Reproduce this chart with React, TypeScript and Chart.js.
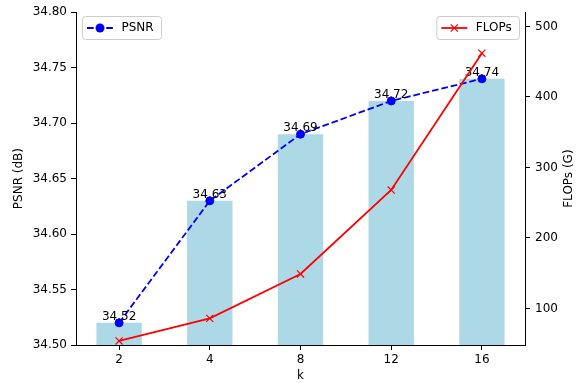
import React, { useEffect, useRef } from 'react';
import { Chart, registerables } from 'chart.js';

Chart.register(...registerables);

const categories = ['2', '4', '8', '12', '16'];
const psnrValues = [34.52, 34.63, 34.69, 34.72, 34.74];
const flopsValues = [54, 86, 149, 268, 462];
const psnrTicks = [34.5, 34.55, 34.6, 34.65, 34.7, 34.75, 34.8];
const flopsTicks = [100, 200, 300, 400, 500];
const psnrRange = [34.5, 34.8];
const flopsRange = [48.3, 520.1];
const xRange = [-0.475, 4.475];

const FAMILY = "'DejaVu Sans', sans-serif";
const W = 585;
const H = 383;

function drawLegend(ctx: CanvasRenderingContext2D, anchorX: number, alignRight: boolean, label: string, kind: 'psnr' | 'flops') {
  ctx.save();
  ctx.font = `12px ${FAMILY}`;
  const tw = ctx.measureText(label).width;
  const w = tw + 46.8;
  const h = 23;
  const x = alignRight ? anchorX - w : anchorX;
  const y = 16;
  ctx.beginPath();
  (ctx as any).roundRect(x + 0.5, y + 0.5, w, h, 3);
  ctx.fillStyle = 'rgba(255,255,255,0.8)';
  ctx.fill();
  ctx.strokeStyle = '#cccccc';
  ctx.lineWidth = 1;
  ctx.stroke();
  const cy = y + h / 2 + 0.5;
  const hx0 = x + 5;
  const hx1 = x + 31;
  const mx = (hx0 + hx1) / 2;
  const color = kind === 'psnr' ? '#0000ff' : '#ff0000';
  ctx.strokeStyle = color;
  ctx.lineWidth = 1.8;
  ctx.setLineDash(kind === 'psnr' ? [6.7, 2.9] : []);
  ctx.beginPath();
  ctx.moveTo(hx0, cy);
  ctx.lineTo(hx1, cy);
  ctx.stroke();
  ctx.setLineDash([]);
  if (kind === 'psnr') {
    ctx.fillStyle = color;
    ctx.beginPath();
    ctx.arc(mx, cy, 4.5, 0, Math.PI * 2);
    ctx.fill();
  } else {
    const d = 3.55;
    ctx.lineWidth = 1.2;
    ctx.beginPath();
    ctx.moveTo(mx - d, cy - d);
    ctx.lineTo(mx + d, cy + d);
    ctx.moveTo(mx - d, cy + d);
    ctx.lineTo(mx + d, cy - d);
    ctx.stroke();
  }
  ctx.fillStyle = '#000';
  ctx.textAlign = 'left';
  ctx.textBaseline = 'middle';
  ctx.fillText(label, x + 39.5, cy - 0.5);
  ctx.restore();
}

export default function App() {
  const ref = useRef<HTMLCanvasElement>(null);

  useEffect(() => {
    document.body.style.margin = '0';
    const canvas = ref.current;
    if (!canvas) return;
    Chart.defaults.font.family = FAMILY;
    Chart.defaults.font.size = 12;
    Chart.defaults.color = '#000';

    const idx = categories.map((_, i) => i);
    const font = { family: FAMILY, size: 12 };

    const plugin = {
      id: 'customDecor',
      afterDatasetDraw(chart: any, args: any) {
        if (args.index !== 1) return;
        const ctx = chart.ctx as CanvasRenderingContext2D;
        const meta = chart.getDatasetMeta(0);
        ctx.save();
        ctx.font = `12px ${FAMILY}`;
        ctx.fillStyle = '#000';
        ctx.textAlign = 'center';
        ctx.textBaseline = 'alphabetic';
        meta.data.forEach((el: any, i: number) => {
          ctx.fillText(psnrValues[i].toFixed(2), el.x, el.y - 3);
        });
        ctx.restore();
      },
      afterDraw(chart: any) {
        const ctx = chart.ctx as CanvasRenderingContext2D;
        const area = chart.chartArea;
        ctx.save();
        ctx.font = `12px ${FAMILY}`;
        ctx.fillStyle = '#000';
        ctx.translate(568.5, (area.top + area.bottom) / 2);
        ctx.rotate(-Math.PI / 2);
        ctx.textAlign = 'center';
        ctx.textBaseline = 'middle';
        ctx.fillText('FLOPs (G)', 0, 0);
        ctx.restore();
        drawLegend(ctx, area.left + 6, false, 'PSNR', 'psnr');
        drawLegend(ctx, area.right - 6, true, 'FLOPs', 'flops');
      },
    };

    const chart = new Chart(canvas, {
      type: 'bar',
      data: {
        datasets: [
          {
            type: 'bar',
            label: 'PSNR bars',
            data: idx.map((i) => ({ x: i, y: psnrValues[i] })),
            backgroundColor: '#add8e6',
            borderWidth: 0,
            barPercentage: 0.5,
            categoryPercentage: 1,
            xAxisID: 'x',
            yAxisID: 'y',
            order: 3,
          },
          {
            type: 'line',
            label: 'PSNR',
            data: idx.map((i) => ({ x: i, y: psnrValues[i] })),
            borderColor: '#0000ff',
            backgroundColor: '#0000ff',
            borderWidth: 1.8,
            borderDash: [6.7, 2.9],
            pointStyle: 'circle',
            pointRadius: 4,
            pointBorderWidth: 1,
            pointBackgroundColor: '#0000ff',
            pointBorderColor: '#0000ff',
            fill: false,
            tension: 0,
            xAxisID: 'x',
            yAxisID: 'y',
            order: 2,
          },
          {
            type: 'line',
            label: 'FLOPs',
            data: idx.map((i) => ({ x: i, y: flopsValues[i] })),
            borderColor: '#ff0000',
            backgroundColor: '#ff0000',
            borderWidth: 1.8,
            pointStyle: 'crossRot',
            pointRadius: 5,
            pointBorderWidth: 1.2,
            pointBorderColor: '#ff0000',
            fill: false,
            tension: 0,
            xAxisID: 'x',
            yAxisID: 'y1',
            order: 1,
          },
        ],
      } as any,
      options: {
        responsive: false,
        animation: false,
        events: [],
        layout: { padding: { top: 10, left: 0, right: 0, bottom: 0 } },
        plugins: { legend: { display: false }, tooltip: { enabled: false } },
        scales: {
          x: {
            type: 'linear',
            position: 'bottom',
            min: xRange[0],
            max: xRange[1],
            offset: false,
            afterBuildTicks: (s: any) => {
              s.ticks = idx.map((v) => ({ value: v }));
            },
            afterFit: (s: any) => {
              s.height = 38;
            },
            ticks: {
              callback: (v: any) => categories[Math.round(Number(v))] ?? '',
              font,
              color: '#000',
              padding: 3,
              maxRotation: 0,
              autoSkip: false,
            },
            grid: {
              display: true,
              offset: false,
              drawOnChartArea: false,
              drawTicks: true,
              tickLength: 5,
              color: '#000',
              tickColor: '#000',
              tickWidth: 1,
            },
            border: { display: true, color: '#000', width: 1 },
            title: { display: true, text: 'k', font, color: '#000', padding: { top: 0, bottom: 0 } },
          },
          y: {
            type: 'linear',
            position: 'left',
            min: psnrRange[0],
            max: psnrRange[1],
            beginAtZero: false,
            afterBuildTicks: (s: any) => {
              s.ticks = psnrTicks.map((v) => ({ value: v }));
            },
            afterFit: (s: any) => {
              s.width = 76;
            },
            ticks: {
              callback: (v: any) => Number(v).toFixed(2),
              font,
              color: '#000',
              padding: 4,
            },
            grid: {
              display: true,
              drawOnChartArea: false,
              drawTicks: true,
              tickLength: 5,
              color: '#000',
              tickColor: '#000',
              tickWidth: 1,
            },
            border: { display: true, color: '#000', width: 1 },
            title: { display: true, text: 'PSNR (dB)', font, color: '#000', padding: { top: 12, bottom: 0 } },
          },
          y1: {
            type: 'linear',
            position: 'right',
            min: flopsRange[0],
            max: flopsRange[1],
            beginAtZero: false,
            afterBuildTicks: (s: any) => {
              s.ticks = flopsTicks.map((v) => ({ value: v }));
            },
            afterFit: (s: any) => {
              s.width = W - 525;
            },
            ticks: {
              callback: (v: any) => String(v),
              font,
              color: '#000',
              padding: 5,
            },
            grid: {
              display: true,
              drawOnChartArea: false,
              drawTicks: true,
              tickLength: 5,
              color: '#000',
              tickColor: '#000',
              tickWidth: 1,
            },
            border: { display: true, color: '#000', width: 1 },
          },
        },
      } as any,
      plugins: [plugin],
    });

    return () => {
      chart.destroy();
    };
  }, []);

  return (
    <div style={{ width: W, height: H }}>
      <canvas ref={ref} width={W} height={H} style={{ display: 'block', width: W, height: H }} />
    </div>
  );
}
